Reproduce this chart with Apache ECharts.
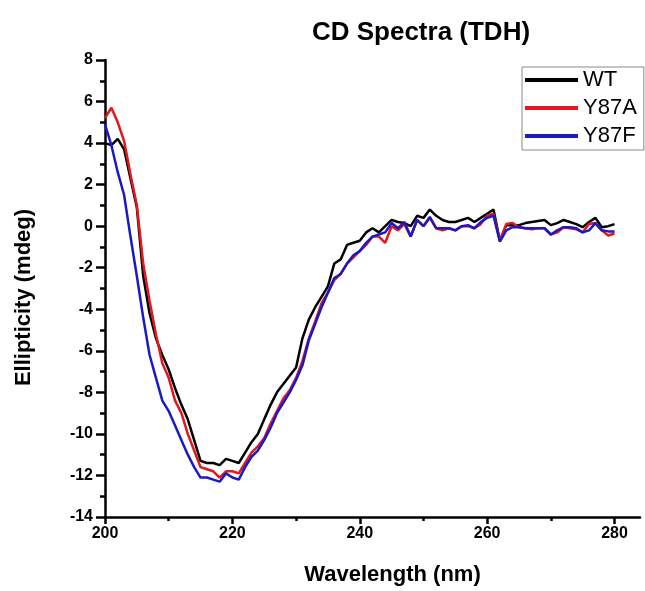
<!DOCTYPE html>
<html>
<head>
<meta charset="utf-8">
<script src="https://cdn.jsdelivr.net/npm/echarts@6/dist/echarts.min.js"></script>
<style>
	html, body { margin: 0; padding: 0; background: #fff; }
	#myChart { width: 645px; height: 591px; }
</style>
</head>
<body>
<div id="myChart"></div>
<script>
	// wavelength, nm (1 nm steps)
	var wavelength = [];
	for (var w = 200; w <= 280; w++) wavelength.push(w);

	var seriesNames = ['WT', 'Y87A', 'Y87F'];

	// ellipticity (mdeg)
	var wt = [
		4.0, 3.9, 4.2, 3.7, 2.3, 0.9, -2.4, -4.2, -5.4, -6.2,
		-6.9, -7.8, -8.6, -9.3, -10.3, -11.3, -11.4, -11.4, -11.5, -11.2,
		-11.3, -11.4, -10.9, -10.4, -10.0, -9.3, -8.6, -8.0, -7.6, -7.2,
		-6.8, -5.4, -4.5, -3.9, -3.4, -2.9, -1.8, -1.6, -0.9, -0.8,
		-0.7, -0.3, -0.1, -0.3, 0.0, 0.3, 0.2, 0.15, 0.0, 0.5,
		0.4, 0.8, 0.5, 0.3, 0.2, 0.2, 0.3, 0.4, 0.2, 0.4,
		0.6, 0.8, -0.7, 0.05, 0.05, 0.05, 0.15, 0.2, 0.25, 0.3,
		0.05, 0.15, 0.3, 0.2, 0.1, -0.05, 0.2, 0.4, -0.05, 0.0,
		0.1
	];
	var y87a = [
		5.2, 5.7, 5.0, 4.1, 2.5, 1.0, -1.8, -3.6, -5.2, -6.6,
		-7.3, -8.4, -9.0, -10.0, -10.8, -11.6, -11.7, -11.8, -12.1, -11.8,
		-11.8, -11.9, -11.4, -10.9, -10.6, -10.2, -9.5, -8.9, -8.3, -7.9,
		-7.3, -6.5, -5.4, -4.6, -3.7, -3.2, -2.6, -2.3, -1.8, -1.5,
		-1.2, -0.9, -0.5, -0.5, -0.8, 0.0, -0.2, 0.1, -0.5, 0.3,
		0.0, 0.4, -0.1, -0.2, -0.1, -0.2, 0.0, 0.0, -0.1, 0.1,
		0.5, 0.6, -0.7, 0.1, 0.15, -0.05, -0.1, -0.15, -0.1, -0.1,
		-0.4, -0.3, -0.05, -0.1, -0.15, -0.3, 0.1, 0.15, -0.2, -0.45,
		-0.35
	];
	var y87f = [
		4.9, 3.9, 2.6, 1.5, -0.5, -2.4, -4.4, -6.2, -7.3, -8.4,
		-8.9, -9.6, -10.3, -11.0, -11.6, -12.1, -12.1, -12.2, -12.3, -11.9,
		-12.1, -12.2, -11.6, -11.1, -10.8, -10.3, -9.7, -9.0, -8.5, -8.0,
		-7.4, -6.7, -5.5, -4.7, -3.9, -3.2, -2.5, -2.3, -1.8, -1.4,
		-1.2, -0.8, -0.5, -0.4, -0.3, 0.15, -0.1, 0.2, -0.5, 0.3,
		0.0, 0.45, -0.1, -0.1, -0.1, -0.2, 0.0, 0.05, -0.1, 0.2,
		0.4, 0.5, -0.75, -0.2, -0.05, -0.05, -0.1, -0.1, -0.1, -0.1,
		-0.4, -0.2, -0.05, -0.05, -0.1, -0.3, -0.2, 0.15, -0.2, -0.25,
		-0.25
	];

	var xMajorTicks = [200, 220, 240, 260, 280];
	var xMinorTicks = [210, 230, 250, 270];
	var colors = ['#000000', '#e3171e', '#1a1ac4'];

	function pairs(vals) {
		return wavelength.map(function (x, i) { return [x, vals[i]]; });
	}

	var font = '"Liberation Sans", Arial, sans-serif';
	var myChart = echarts.init(document.getElementById('myChart'), null, { renderer: 'canvas' });

	var option = {
		animation: false,
		backgroundColor: '#fff',
		color: colors,
		title: {
			text: 'CD Spectra (TDH)',
			left: 416,
			textAlign: 'center',
			top: 15,
			textStyle: { fontFamily: font, fontWeight: 'bold', fontSize: 26, color: '#000' }
		},
		legend: {
			orient: 'vertical',
			left: 522,
			top: 67,
			padding: [2, 7, 3, 3],
			itemGap: 6,
			itemWidth: 53,
			itemHeight: 4,
			icon: 'rect',
			borderColor: '#8a8a8a',
			borderWidth: 1,
			data: seriesNames,
			textStyle: { fontFamily: font, fontSize: 22, color: '#000', lineHeight: 22 }
		},
		grid: { left: 105, right: 5, top: 60, bottom: 74 },
		xAxis: [{
			type: 'value',
			min: 200,
			max: 284,
			name: 'Wavelength (nm)',
			nameLocation: 'middle',
			nameGap: 47,
			nameTextStyle: { fontFamily: font, fontWeight: 'bold', fontSize: 22, color: '#000', padding: [0, 0, 0, 40] },
			axisLine: { onZero: false, lineStyle: { color: '#000', width: 2.5 } },
			axisTick: { length: 7, lineStyle: { width: 2.5, color: '#000' }, customValues: xMajorTicks },
			axisLabel: { customValues: xMajorTicks, margin: 9, fontFamily: font, fontWeight: 'bold', fontSize: 16, color: '#000' },
			splitLine: { show: false }
		}, {
			type: 'value',
			min: 200,
			max: 284,
			position: 'bottom',
			axisLine: { show: false, onZero: false },
			axisTick: { length: 4, lineStyle: { width: 2.5, color: '#000' }, customValues: xMinorTicks },
			axisLabel: { show: false },
			splitLine: { show: false }
		}],
		yAxis: {
			type: 'value',
			min: -14,
			max: 8,
			interval: 2,
			name: 'Ellipticity (mdeg)',
			nameLocation: 'middle',
			nameGap: 70,
			nameTextStyle: { fontFamily: font, fontWeight: 'bold', fontSize: 22, color: '#000', padding: [0, 18, 0, 0] },
			axisLine: { show: true, onZero: false, lineStyle: { color: '#000', width: 2.5 } },
			axisTick: { show: true, length: 9, lineStyle: { width: 2.5, color: '#000' } },
			minorTick: { show: true, splitNumber: 2, length: 5, lineStyle: { width: 2.5, color: '#000' } },
			axisLabel: { margin: 12, fontFamily: font, fontWeight: 'bold', fontSize: 16, color: '#000' },
			splitLine: { show: false }
		},
		series: [
			{ name: 'WT', type: 'line', data: pairs(wt), showSymbol: false, lineStyle: { width: 2.5 } },
			{ name: 'Y87A', type: 'line', data: pairs(y87a), showSymbol: false, lineStyle: { width: 2.5 } },
			{ name: 'Y87F', type: 'line', data: pairs(y87f), showSymbol: false, lineStyle: { width: 2.5 } }
		]
	};

	myChart.setOption(option);
</script>
</body>
</html>
